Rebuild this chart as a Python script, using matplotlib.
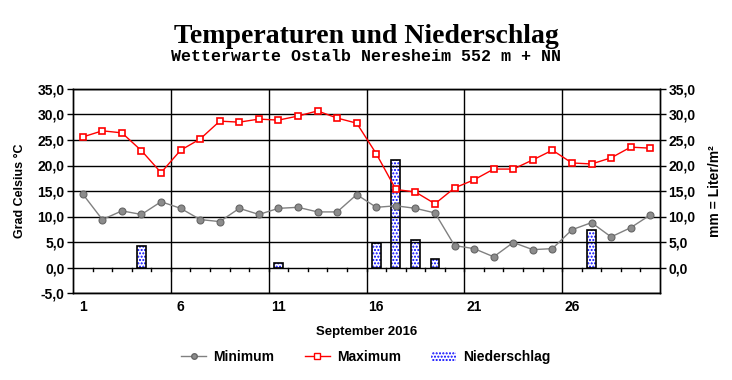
import matplotlib
matplotlib.use("Agg")
import matplotlib.pyplot as plt
import numpy as np
from matplotlib.patches import Patch
from matplotlib.lines import Line2D

days = list(range(1, 31))
t_min = [14.4, 9.4, 11.1, 10.4, 12.9, 11.6, 9.4, 9.0, 11.6, 10.4,
         11.6, 11.8, 10.9, 10.9, 14.3, 11.8, 12.1, 11.6, 10.7, 4.3,
         3.7, 2.1, 4.9, 3.5, 3.7, 7.4, 8.8, 6.0, 7.8, 10.3]
t_max = [25.6, 26.8, 26.4, 22.9, 18.6, 23.0, 25.2, 28.7, 28.5, 29.1,
         28.9, 29.7, 30.7, 29.3, 28.3, 22.3, 15.3, 14.8, 12.5, 15.6,
         17.2, 19.3, 19.3, 21.1, 23.0, 20.5, 20.3, 21.5, 23.6, 23.4]
precip = [0, 0, 0, 4.3, 0, 0, 0, 0, 0, 0,
          0.8, 0, 0, 0, 0, 4.9, 21.1, 5.3, 1.7, 0,
          0, 0, 0, 0, 0, 0, 7.3, 0, 0, 0]
x_labels = ["1", "6", "11", "16", "21", "26"]
y_ticks = [-5, 0, 5, 10, 15, 20, 25, 30, 35]

def fmt(v):
    return f"{v:.1f}".replace(".", ",")

fig = plt.figure(figsize=(7.32, 3.80), dpi=100)
ax = fig.add_axes([73/732, 1-293/380, (660-73)/732, (293-89)/380])
ax2 = ax.twinx()

ax.set_xlim(0.5, 30.5)
ax.set_ylim(-5, 35)
ax2.set_ylim(-5, 35)

# grid
for y in y_ticks:
    ax.axhline(y, color="black", lw=1.0, zorder=1)
for xv in [5.5, 10.5, 15.5, 20.5, 25.5]:
    ax.axvline(xv, color="black", lw=1.0, zorder=1)
# small category ticks on zero line
for xv in np.arange(1.5, 30.5, 1.0):
    ax.plot([xv, xv], [0, -0.7], color="black", lw=1.0, zorder=1)

# precipitation bars (on secondary axis)
idx = [i for i, v in enumerate(precip) if v > 0]
bx = [days[i] for i in idx]
bv = [precip[i] for i in idx]
ax2.bar(bx, bv, width=0.45, facecolor="white", edgecolor="#0000ff",
        hatch=".....", linewidth=0, zorder=2)
ax2.bar(bx, bv, width=0.45, fill=False, edgecolor="black", linewidth=1.2, zorder=3)

ax2.set_zorder(ax.get_zorder() - 1)
ax.patch.set_visible(False)
ax2.patch.set_visible(True)
ax2.patch.set_facecolor("white")

# lines
ax.plot(days, t_min, color="#808080", lw=1.0, marker="o", ms=5,
        mfc="#8c8c8c", mec="#666666", mew=0.8, zorder=4)
ax.plot(days, t_max, color="#ff0000", lw=1.0, marker="s", ms=5,
        mfc="white", mec="#ff0000", mew=1.2, zorder=4)

# ticks
ax.set_xticks([1, 6, 11, 16, 21, 26])
ax.set_xticklabels(x_labels, fontsize=10, fontweight="bold", family="Liberation Sans")
ax.tick_params(axis="x", length=0, pad=5)
ax.set_yticks(y_ticks)
ax.set_yticklabels([fmt(v) for v in y_ticks], fontsize=10, fontweight="bold",
                   family="Liberation Sans")
ax.tick_params(axis="y", length=4, width=1, pad=2)
ax2.set_yticks(y_ticks[1:])
ax2.set_yticklabels([fmt(v) for v in y_ticks[1:]], fontsize=10, fontweight="bold",
                    family="Liberation Sans")
ax2.tick_params(axis="y", length=4, width=1, pad=2)

for a in (ax, ax2):
    for s in a.spines.values():
        s.set_linewidth(1.0)
        s.set_color("black")

ax.set_ylabel("Grad Celsius °C", fontsize=9, fontweight="bold",
              family="Liberation Sans", labelpad=8)
ax2.set_ylabel("mm = Liter/m²", fontsize=10, fontweight="bold",
               family="Liberation Sans", labelpad=9)
ax.set_xlabel("September 2016", fontsize=9.5, fontweight="bold",
              family="Liberation Sans", labelpad=9)

fig.text(0.5, 1-43/380, "Temperaturen und Niederschlag", ha="center", va="baseline",
         fontsize=20, fontweight="bold", family="Liberation Serif")
fig.text(0.5, 1-61/380, "Wetterwarte Ostalb Neresheim 552 m + NN", ha="center",
         va="baseline", fontsize=12, fontweight="bold", family="Liberation Mono")

handles = [
    Line2D([], [], color="#808080", lw=1.0, marker="o", ms=4, mfc="#8c8c8c", mec="#666666"),
    Line2D([], [], color="#ff0000", lw=1.0, marker="s", ms=4, mfc="white", mec="#ff0000"),
    Patch(facecolor="white", edgecolor="#0000ff", hatch=".....", linewidth=0),
]
leg = fig.legend(handles, ["Minimum", "Maximum", "Niederschlag"], loc="center",
                 bbox_to_anchor=(0.5, 1-357/380), ncol=3, frameon=False,
                 prop={"family": "Liberation Sans", "weight": "bold", "size": 10},
                 handlelength=1.8, columnspacing=2.2, handletextpad=0.5)

fig.savefig("out.png", dpi=100)
